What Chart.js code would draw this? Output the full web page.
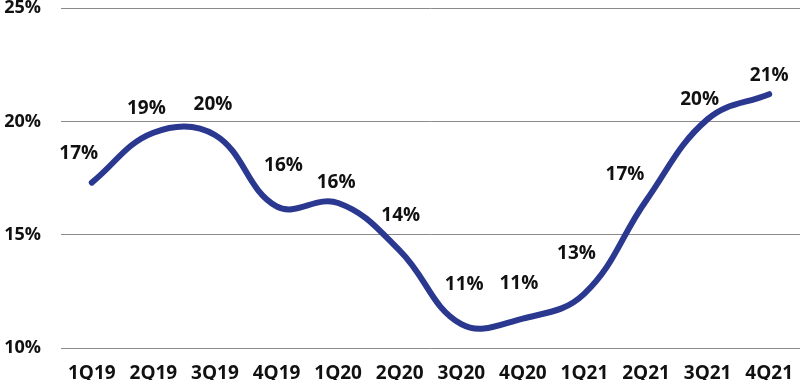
<!DOCTYPE html>
<html><head><meta charset="utf-8">
<script src="https://cdn.jsdelivr.net/npm/chart.js@4/dist/chart.umd.min.js"></script>
<style>html,body{margin:0;padding:0;background:#fff}#wrap{width:800px;height:380px}</style>
</head><body><div id="wrap"><canvas id="c"></canvas></div>
<script>
const categories = ["1Q19","2Q19","3Q19","4Q19","1Q20","2Q20","3Q20","4Q20","1Q21","2Q21","3Q21","4Q21"];
const values = [17.3, 19.5, 19.4, 16.25, 16.4, 14.3, 11.05, 11.3, 12.4, 16.5, 20.1, 21.2];
const valueLabels = ["17%","19%","20%","16%","16%","14%","11%","11%","13%","17%","20%","21%"];
const yTicks = [10, 15, 20, 25];

const labelOffsets = [[-13,-29],[-7,-24],[-2,-30],[7,-41],[-2,-20],[1,-35],[3,-40],[-4,-35],[-8,-40],[-21,-26],[-8,-20],[0,-19]];
const FONT = "'Open Sans', 'DejaVu Sans', sans-serif";

const labelPlugin = {
  id: 'vlabels',
  afterDatasetsDraw(chart) {
    const ctx = chart.ctx;
    const meta = chart.getDatasetMeta(0);
    ctx.save();
    ctx.font = "bold 19px " + FONT;
    ctx.fillStyle = "#111";
    ctx.textAlign = "center";
    ctx.textBaseline = "middle";
    meta.data.forEach((pt, i) => {
      const o = labelOffsets[i];
      ctx.fillText(valueLabels[i], pt.x + o[0], pt.y + o[1]);
    });
    ctx.restore();
  }
};

new Chart(document.getElementById('c'), {
  type: 'line',
  data: {
    datasets: [{
      data: values.map((v, i) => ({x: i, y: v})),
      borderColor: '#2b388f',
      borderWidth: 6,
      borderCapStyle: 'round',
      pointRadius: 0,
      tension: 0.4,
      fill: false,
      clip: false
    }]
  },
  options: {
    responsive: true,
    maintainAspectRatio: false,
    animation: false,
    layout: { padding: 0 },
    plugins: { legend: { display: false }, tooltip: { enabled: false } },
    scales: {
      x: {
        type: 'linear',
        min: -0.5,
        max: 11.5,
        afterBuildTicks(scale) { scale.ticks = categories.map((c, i) => ({value: i})); },
        afterFit(scale) { scale.height = 32; },
        ticks: {
          callback: (v) => categories[v],
          font: { family: FONT, size: 19, weight: 'bold' },
          color: '#111',
          padding: 6,
          maxRotation: 0,
          autoSkip: false
        },
        grid: { display: false },
        border: { display: false }
      },
      y: {
        min: 10,
        max: 25,
        afterBuildTicks(scale) { scale.ticks = yTicks.map(v => ({value: v})); },
        afterFit(scale) { scale.width = 61; },
        ticks: {
          callback: (v) => v + '%',
          font: { family: FONT, size: 18, weight: 'bold', lineHeight: 0.9 },
          color: '#111',
          padding: 0
        },
        grid: { color: '#8a8a8a', lineWidth: 1, drawTicks: true, tickLength: 20, tickColor: 'rgba(0,0,0,0)' },
        border: { display: false }
      }
    }
  },
  plugins: [labelPlugin]
});
</script></body></html>
